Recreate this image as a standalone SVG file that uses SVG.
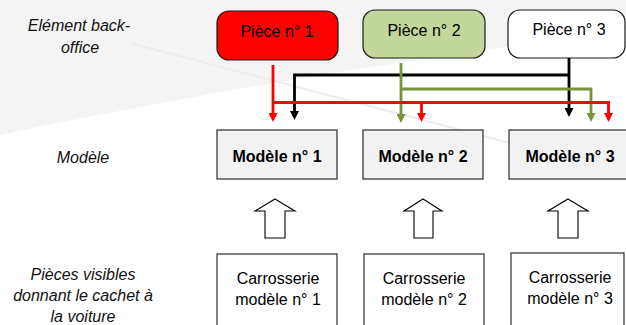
<svg xmlns="http://www.w3.org/2000/svg" width="626" height="325" viewBox="0 0 626 325">
<style>
.lbl{font-family:"Liberation Sans",Arial,sans-serif;font-size:16px;font-style:italic;fill:#111;text-anchor:middle}
.t{font-family:"Liberation Sans",Arial,sans-serif;font-size:16px;fill:#000;text-anchor:middle}
.b{font-weight:bold}
.piece{stroke:#1a1a1a;stroke-width:1.2}
.mod{fill:#f2f2f2;stroke:#3a3a3a;stroke-width:1.3}
.car{fill:#fff;stroke:#1a1a1a;stroke-width:1.1}
.up{fill:#fff;stroke:#000;stroke-width:1.1;stroke-linejoin:miter}
.c{fill:none;stroke-width:2.8;stroke-linejoin:miter}
.red{stroke:#ff0000}.blk{stroke:#000}.grn{stroke:#77933c}
</style>
<defs>
<marker id="hr" viewBox="0 0 10 10" refX="0" refY="5" markerWidth="9" markerHeight="9" markerUnits="userSpaceOnUse" orient="auto"><path d="M0,0 L10,5 L0,10 z" fill="#ff0000"/></marker>
<marker id="hk" viewBox="0 0 10 10" refX="0" refY="5" markerWidth="9" markerHeight="9" markerUnits="userSpaceOnUse" orient="auto"><path d="M0,0 L10,5 L0,10 z" fill="#000"/></marker>
<marker id="hg" viewBox="0 0 10 10" refX="0" refY="5" markerWidth="9" markerHeight="9" markerUnits="userSpaceOnUse" orient="auto"><path d="M0,0 L10,5 L0,10 z" fill="#77933c"/></marker>
</defs>
<rect width="626" height="325" fill="#fff"/>
<path d="M0,0 H626 V30 C450,55 260,80 0,135 Z" fill="#f4f4f4"/>
<path d="M130,43 L510,143" stroke="#ececec" stroke-width="2" fill="none"/>

<g id="label-backoffice"><text class="lbl" x="79" y="31">Elément back-</text><text class="lbl" x="80" y="53">office</text></g>
<g id="label-modele"><text class="lbl" x="83" y="163">Modèle</text></g>
<g id="label-pieces"><text class="lbl" x="83" y="280">Pièces visibles</text><text class="lbl" x="83" y="301">donnant le cachet à</text><text class="lbl" x="83" y="322">la voiture</text></g>

<g id="piece1"><rect class="piece" x="217" y="11" width="121" height="49" rx="12" fill="#ff0000"/><text class="t" x="277" y="37">Pièce n° 1</text></g>
<g id="piece2"><rect class="piece" x="363" y="10" width="122" height="48" rx="12" fill="#c3d69b"/><text class="t" x="424" y="36">Pièce n° 2</text></g>
<g id="piece3"><rect class="piece" x="508" y="10" width="117" height="48" rx="12" fill="#fff"/><text class="t" x="569" y="35">Pièce n° 3</text></g>

<g id="modele1"><rect class="mod" x="217" y="130" width="120" height="49"/><text class="t b" x="277" y="162">Modèle n° 1</text></g>
<g id="modele2"><rect class="mod" x="363" y="130" width="120" height="49"/><text class="t b" x="423" y="162">Modèle n° 2</text></g>
<g id="modele3"><rect class="mod" x="509" y="130" width="122" height="49"/><text class="t b" x="570" y="162">Modèle n° 3</text></g>

<g id="carrosserie1"><rect class="car" x="217" y="254" width="120" height="80"/><text class="t" x="278" y="284">Carrosserie</text><text class="t" x="278" y="305">modèle n° 1</text></g>
<g id="carrosserie2"><rect class="car" x="364" y="254" width="120" height="80"/><text class="t" x="424" y="284">Carrosserie</text><text class="t" x="424" y="305">modèle n° 2</text></g>
<g id="carrosserie3"><rect class="car" x="511" y="253" width="113" height="80"/><text class="t" x="570" y="283">Carrosserie</text><text class="t" x="570" y="304">modèle n° 3</text></g>

<g id="connectors">
<path class="c blk" d="M569,58 V108" marker-end="url(#hk)"/>
<path class="c blk" d="M569,75 H294.5 V111" marker-end="url(#hk)"/>
<path class="c grn" d="M401,63 V114" marker-end="url(#hg)"/>
<path class="c grn" d="M401,89 H591 V113" marker-end="url(#hg)"/>
<path class="c red" d="M273,65 V113" marker-end="url(#hr)"/>
<path class="c red" d="M273,102.5 H421.5 V113" marker-end="url(#hr)"/>
<path class="c red" d="M421.5,102.5 H608.5 V113" marker-end="url(#hr)"/>
<polygon class="up" points="275,199 295,211 285,211 285,238 265,238 265,211 255,211"/>
<polygon class="up" points="423,199 442,211 433,211 433,238 414,238 414,211 404,211"/>
<polygon class="up" points="568,199 588,211 578,211 578,238 558,238 558,211 548,211"/>
</g>
</svg>
